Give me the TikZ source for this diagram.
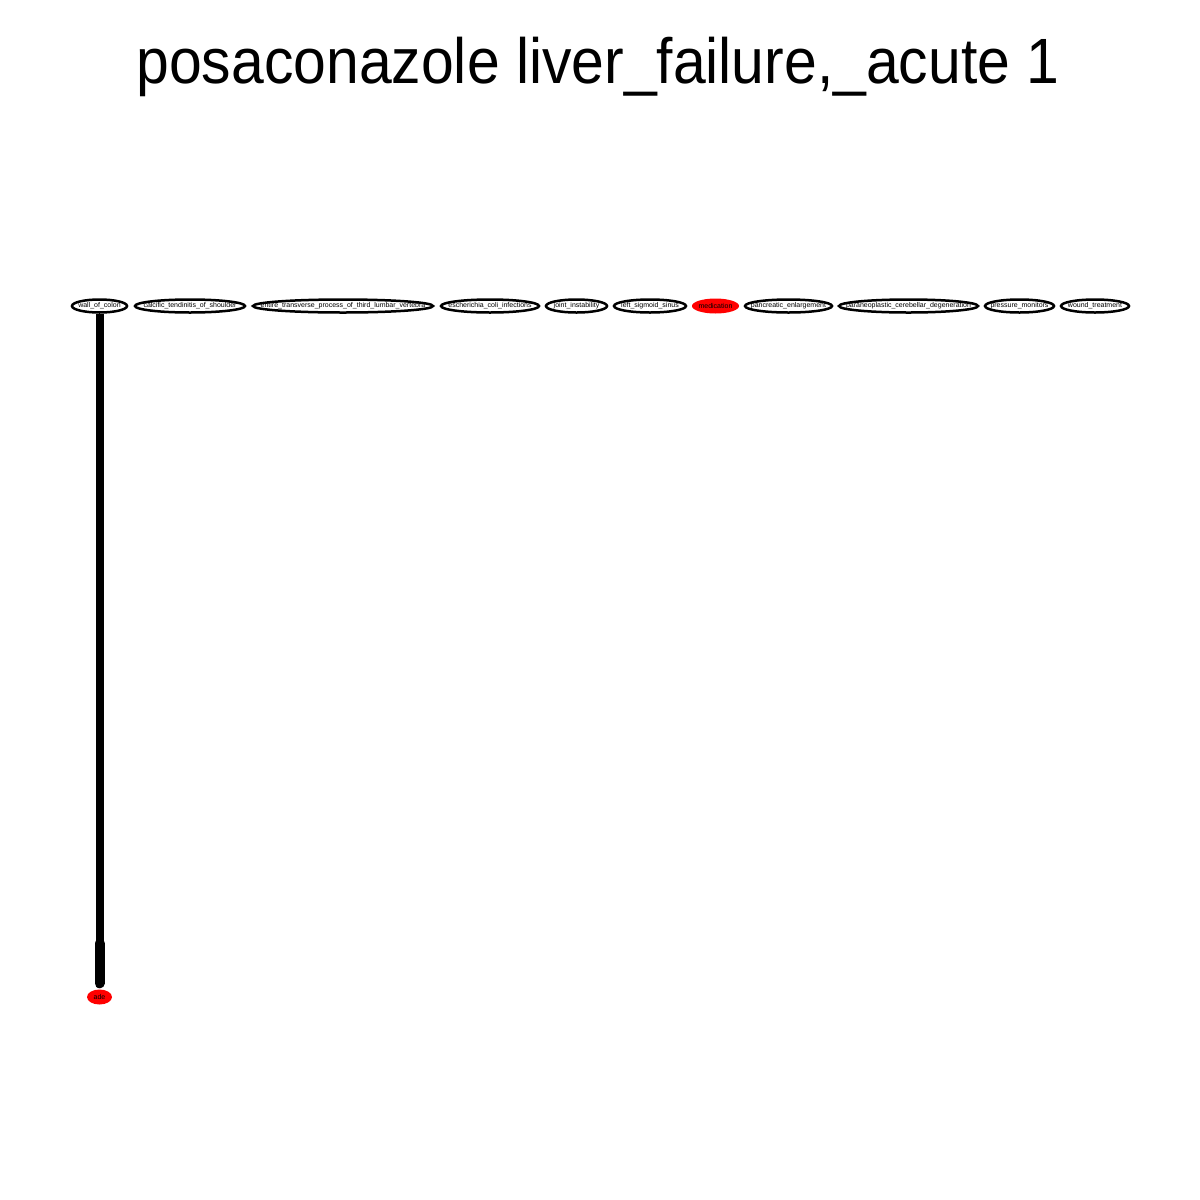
\documentclass[tikz,border=0pt]{standalone}
\usepackage{fontspec}
\setmainfont{Liberation Sans}
\usetikzlibrary{shapes.geometric}
\newcommand{\lbl}[1]{\makebox[0pt]{\fontsize{7}{8}\selectfont #1}}
\begin{document}
\begin{tikzpicture}[x=1pt,y=-1pt,
  nd/.style={ellipse,draw=black,line width=2.5pt,inner sep=0pt,minimum height=13pt},
  hl/.style={ellipse,fill=red,draw=none,inner sep=0pt,minimum height=15pt},
  edge/.style={line width=8pt,draw=black}]
\useasboundingbox (0,0) rectangle (1200,1200);
\fill[white] (0,0) rectangle (1200,1200);
\node (title) at (598,67) {\fontsize{64}{74}\selectfont\scalebox{0.92}[1]{posaconazole liver\_failure,\_acute 1}};
\node[nd,minimum width=55pt] (n1) at (99.5,306) {\lbl{wall\_of\_colon}};
\node[nd,minimum width=110pt] (n2) at (190,306) {\lbl{calcific\_tendinitis\_of\_shoulder}};
\node[nd,minimum width=180pt] (n3) at (343,306) {\lbl{entire\_transverse\_process\_of\_third\_lumbar\_vertebra}};
\node[nd,minimum width=98pt] (n4) at (490,306) {\lbl{escherichia\_coli\_infections}};
\node[nd,minimum width=61pt] (n5) at (576.5,306) {\lbl{joint\_instability}};
\node[nd,minimum width=72pt] (n6) at (650,306) {\lbl{left\_sigmoid\_sinus}};
\node[hl,minimum width=47pt] (n7) at (715.5,306) {\lbl{medication}};
\node[nd,minimum width=87pt] (n8) at (788.5,306) {\lbl{pancreatic\_enlargement}};
\node[nd,minimum width=139pt] (n9) at (908.5,306) {\lbl{paraneoplastic\_cerebellar\_degeneration}};
\node[nd,minimum width=69pt] (n10) at (1019.5,306) {\lbl{pressure\_monitors}};
\node[nd,minimum width=68pt] (n11) at (1095,306) {\lbl{wound\_treatment}};
\node[hl,minimum width=25pt] (ade) at (99.5,997) {\lbl{ade}};
\coordinate (tip) at ([yshift=6pt]ade.north);
\coordinate (hb) at ([yshift=46pt]ade.north);
\draw[edge] (n1.south) -- (hb);
\draw[line width=10pt,line cap=round] (hb) -- (tip);
\end{tikzpicture}
\end{document}
